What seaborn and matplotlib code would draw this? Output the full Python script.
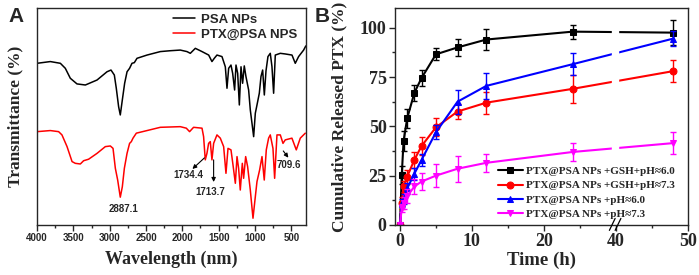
import pandas as pd
import matplotlib
matplotlib.use('Agg')
import matplotlib.pyplot as plt
from matplotlib.ticker import MultipleLocator, FixedLocator
import seaborn as sns

# --- Panel A: FTIR espectros (unidades arbitrarias) ---
psa_wn = [4000, 3817, 3679, 3611, 3542, 3450, 3335, 3174, 3037, 2982,
          2936, 2909, 2877, 2854, 2826, 2794, 2761, 2726, 2693, 2661,
          2624, 2486, 2303, 2165, 2028, 1936, 1890, 1845, 1821, 1729,
          1637, 1592, 1560, 1523, 1454, 1408, 1385, 1362, 1330, 1307,
          1280, 1261, 1238, 1215, 1192, 1170, 1147, 1124, 1087, 1064,
          1041, 1018, 995, 972, 940, 917, 894, 871, 848, 821,
          789, 766, 743, 720, 651, 582, 490, 445, 399, 330, 300]
psa_t = [74.5, 75.3, 74.5, 72.2, 67.6, 65.0, 64.5, 66.8, 70.6, 71.4,
         69.1, 63.0, 54.5, 50.7, 57.6, 65.3, 70.6, 72.2, 74.5, 74.8,
         76.8, 78.3, 79.9, 80.3, 80.6, 79.9, 79.1, 80.6, 81.4, 79.9,
         78.3, 75.3, 76.8, 78.3, 77.6, 72.9, 63.0, 72.2, 73.7, 69.9,
         62.2, 73.7, 69.9, 55.3, 72.9, 65.3, 73.3, 68.4, 62.2, 53.0,
         46.9, 40.7, 51.5, 55.3, 60.7, 68.4, 71.4, 59.9, 71.0, 77.6,
         79.1, 73.0, 60.7, 78.3, 79.1, 78.8, 78.3, 74.5, 77.6, 80.6, 82.5]

ptx_wn = [4000, 3817, 3703, 3657, 3587, 3518, 3473, 3404, 3359, 3290,
          3174, 3060, 2991, 2954, 2922, 2890, 2854, 2826, 2798, 2761,
          2726, 2702, 2679, 2633, 2486, 2303, 2028, 1945, 1900, 1845,
          1729, 1707, 1684, 1661, 1638, 1615, 1592, 1569, 1523, 1477,
          1431, 1399, 1371, 1330, 1302, 1270, 1247, 1225, 1202, 1174,
          1156, 1128, 1101, 1064, 1027, 995, 972, 936, 903, 872,
          844, 812, 789, 752, 729, 697, 651, 614, 583, 491,
          431, 376, 307]
ptx_t = [43.0, 43.5, 43.0, 41.5, 36.1, 29.2, 28.4, 28.1, 29.6, 30.3,
         33.0, 36.1, 36.4, 35.3, 26.1, 20.7, 12.8, 17.6, 26.1, 33.0,
         37.6, 38.4, 40.0, 42.3, 43.5, 45.0, 45.3, 44.6, 43.0, 45.0,
         44.6, 40.7, 30.0, 33.0, 37.6, 38.4, 30.0, 37.6, 41.5, 40.0,
         36.1, 23.8, 35.3, 34.6, 27.6, 19.2, 31.5, 26.1, 16.1, 28.4,
         21.5, 31.5, 26.9, 16.1, 3.1, 13.0, 20.0, 25.3, 31.5, 20.7,
         34.6, 40.0, 41.5, 35.3, 21.5, 41.5, 41.5, 37.6, 39.2, 40.0,
         34.6, 40.0, 42.3]

# --- Panel B: liberacion acumulada ---
time_h = [0, 0.25, 0.5, 1, 2, 3, 5, 8, 12, 24, 48]
rel_gsh_60 = [0, 25.5, 42.5, 54, 67, 74.5, 86.5, 90, 94, 98, 97.5]
rel_gsh_73 = [0, 11, 19.5, 24.5, 33, 40, 49.5, 57.5, 62, 69, 78]
rel_60 = [0, 11, 13, 18.5, 26, 33, 47, 62.5, 70.5, 81.5, 94.5]
rel_73 = [0, 8.5, 11, 14.5, 19.5, 22, 25, 28.5, 31.5, 37, 41.5]
err_gsh_60 = [0, 4.5, 5, 5, 4, 4, 3, 4.5, 5.5, 3.5, 6.5]
err_gsh_73 = [0, 3, 3, 3.5, 4, 4.5, 4.5, 4, 5.5, 7, 5.5]
err_60 = [0, 2, 2.5, 3, 3, 3, 3.5, 6, 6.5, 5.5, 4]
err_73 = [0, 2, 3, 3.5, 4, 4.5, 6, 6.5, 4.5, 4.5, 5.5]
labels_b = ['PTX@PSA NPs +GSH+pH≈6.0', 'PTX@PSA NPs +GSH+pH≈7.3',
            'PTX@PSA NPs +pH≈6.0', 'PTX@PSA NPs +pH≈7.3']
x_ticks_lab = ['0', '10', '20', '40', '50']

sns.set_style('ticks')
SERIF = ['Liberation Serif', 'DejaVu Serif']
SANS = ['Liberation Sans', 'DejaVu Sans']
plt.rcParams['font.family'] = SANS
plt.rcParams['axes.linewidth'] = 1.0

fig = plt.figure(figsize=(6.99, 2.75), dpi=100)
axA = fig.add_axes([0.053, 0.182, 0.385, 0.789])
axB = fig.add_axes([0.565, 0.182, 0.419, 0.789])

# ----- A -----
df_psa = pd.DataFrame({'wn': psa_wn, 't': psa_t})
df_ptx = pd.DataFrame({'wn': ptx_wn, 't': ptx_t})
sns.lineplot(data=df_psa, x='wn', y='t', ax=axA, color='black', lw=1.1,
             estimator=None, label='PSA NPs')
sns.lineplot(data=df_ptx, x='wn', y='t', ax=axA, color='red', lw=1.1,
             estimator=None, label='PTX@PSA NPS')
axA.set_xlim(4000, 295)
axA.set_ylim(0, 100)
axA.set_yticks([])
axA.xaxis.set_major_locator(MultipleLocator(500))
axA.xaxis.set_minor_locator(MultipleLocator(250))
axA.tick_params(axis='x', which='major', length=4, width=1, labelsize=7, pad=2)
axA.tick_params(axis='x', which='minor', length=2.5, width=1)
for lab in axA.get_xticklabels():
    lab.set_fontweight('bold')
axA.set_xlabel('Wavelength (nm)', family=SERIF, fontsize=13, fontweight='bold', labelpad=5)
axA.set_ylabel('Transmittance (%)', family=SERIF, fontsize=12.5, fontweight='bold', labelpad=10)
axA.legend(loc='upper right', bbox_to_anchor=(1.01, 1.03), frameon=False,
           prop={'family': SANS, 'weight': 'bold', 'size': 9.5},
           handlelength=1.7, handletextpad=0.4, labelspacing=0.25)

ann = dict(fontsize=7, fontweight='bold', ha='center', va='center')
arw = dict(arrowstyle='-|>', color='black', lw=0.8, mutation_scale=6, shrinkA=0, shrinkB=0)
axA.text(2811, 7.2, '2887.1', **ann)
axA.text(1918, 23.0, '1734.4', **ann)
axA.text(1613, 15.4, '1713.7', **ann)
axA.text(528, 27.6, '709.6', **ann)
axA.annotate('', xy=(1861, 25.8), xytext=(1696, 30.9), arrowprops=arw)
axA.annotate('', xy=(1569, 19.8), xytext=(1569, 30.0), arrowprops=arw)
axA.annotate('', xy=(540, 31.0), xytext=(610, 34.1), arrowprops=arw)

# ----- B -----
def disp(t):
    # eje roto: 20-40 h comprimido
    return t if t <= 30 else t - 10

t_disp = [disp(t) for t in time_h]
series = [(rel_gsh_60, err_gsh_60, 'black', 's'),
          (rel_gsh_73, err_gsh_73, 'red', 'o'),
          (rel_60, err_60, 'blue', '^'),
          (rel_73, err_73, 'magenta', 'v')]
for (vals, errs, col, mk), lab in zip(series, labels_b):
    df = pd.DataFrame({'t': t_disp, 'r': vals})
    sns.lineplot(data=df, x='t', y='r', ax=axB, color=col, marker=mk,
                 markersize=5, markeredgecolor=col, lw=1.5, label=lab,
                 estimator=None)
    axB.errorbar(t_disp, vals, yerr=errs, fmt='none', ecolor=col,
                 elinewidth=1, capsize=2.5, capthick=1)

# hueco del eje roto
axB.axvspan(29.5, 30.3, color='white', zorder=2.4)
trans = axB.get_xaxis_transform()
for dx in (-0.5, 0.3):
    axB.plot([30 + dx - 0.4, 30 + dx + 0.4], [-0.025, 0.03], color='black',
             lw=0.9, transform=trans, clip_on=False, zorder=5)

axB.set_xlim(-0.7, 40)
axB.set_ylim(0, 110)
axB.xaxis.set_major_locator(FixedLocator([0, 10, 20, 30, 40]))
axB.set_xticklabels(x_ticks_lab)
axB.xaxis.set_minor_locator(FixedLocator([5, 15, 25, 35]))
axB.yaxis.set_major_locator(FixedLocator([0, 25, 50, 75, 100]))
axB.yaxis.set_minor_locator(MultipleLocator(12.5))
axB.tick_params(which='major', length=4, width=1, labelsize=13, pad=2)
axB.tick_params(which='minor', length=2.5, width=1)
for lab in axB.get_xticklabels() + axB.get_yticklabels():
    lab.set_family(SERIF)
    lab.set_fontweight('bold')
axB.set_xlabel('Time (h)', family=SERIF, fontsize=13.5, fontweight='bold', labelpad=1)
axB.set_ylabel('Cumulative Released PTX (%)', family=SERIF, fontsize=12.5,
               fontweight='bold', labelpad=9)
axB.legend(loc='lower right', bbox_to_anchor=(0.99, -0.02), frameon=False,
           prop={'family': SERIF, 'weight': 'bold', 'size': 8.0},
           handlelength=2.2, handletextpad=0.3, labelspacing=0.42)

fig.text(0.012, 0.975, 'A', fontsize=15, fontweight='bold', family=SANS, va='top')
fig.text(0.45, 0.975, 'B', fontsize=15, fontweight='bold', family=SANS, va='top')

fig.savefig('out.png', dpi=100)
